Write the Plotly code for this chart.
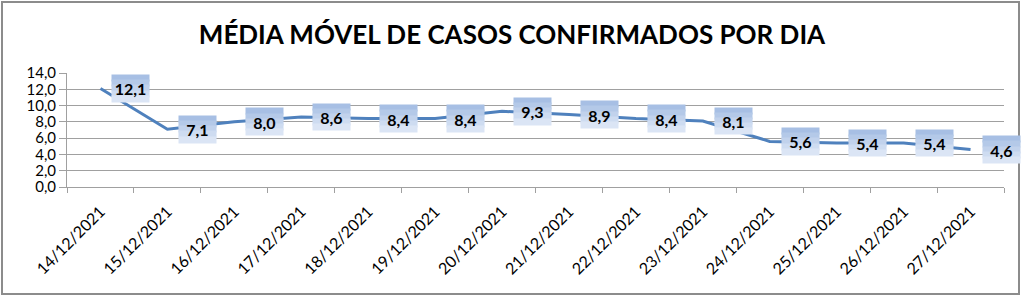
import plotly.graph_objects as go

dates = ["14/12/2021", "15/12/2021", "16/12/2021", "17/12/2021", "18/12/2021",
         "19/12/2021", "20/12/2021", "21/12/2021", "22/12/2021", "23/12/2021",
         "24/12/2021", "25/12/2021", "26/12/2021", "27/12/2021"]
values = [12.1, 7.1, 8.0, 8.6, 8.4, 8.4, 9.3, 8.9, 8.4, 8.1, 5.6, 5.4, 5.4, 4.6]
y_ticks = [0, 2, 4, 6, 8, 10, 12, 14]
y_ticktext = ["0,0", "2,0", "4,0", "6,0", "8,0", "10,0", "12,0", "14,0"]
title_text = "MÉDIA MÓVEL DE CASOS CONFIRMADOS POR DIA"

FONT = "Lato"
GRID = "#a0a0a0"

fig = go.Figure()
fig.add_trace(go.Scatter(
    x=dates, y=values, mode="lines",
    line=dict(color="#4f81bd", width=3),
    hoverinfo="skip", showlegend=False,
))

annotations = []
# gradient-like label boxes: stacked bands from dark (top) to light (bottom)
band_colors = ["#a7bfe4", "#b4c9e8", "#c1d2ec", "#cedcf1", "#dbe5f5"]
box_h = 26
box_w = 37
n = len(band_colors)
bh = box_h / n
for d, v in zip(dates, values):
    for i, c in enumerate(band_colors):
        annotations.append(dict(
            x=d, y=v, xref="x", yref="y", text="", showarrow=False,
            xanchor="left", yanchor="middle", xshift=11,
            yshift=box_h / 2 - bh * (i + 0.5),
            width=box_w, height=bh + 0.6, bgcolor=c, borderpad=0,
        ))
    annotations.append(dict(
        x=d, y=v, xref="x", yref="y",
        text="<b>" + f"{v:.1f}".replace(".", ",") + "</b>",
        showarrow=False, xanchor="left", yanchor="middle", xshift=11,
        width=box_w, height=box_h, borderpad=0,
        font=dict(family=FONT, size=16, color="#000000"),
    ))

fig.update_layout(
    width=1024, height=296,
    margin=dict(l=67, r=20, t=73, b=109),
    paper_bgcolor="white", plot_bgcolor="white",
    font=dict(family=FONT, size=15, color="#000000"),
    title=dict(text="<b>" + title_text + "</b>", x=0.5, xanchor="center",
               y=1 - 35 / 296, yanchor="middle",
               font=dict(family=FONT, size=26, color="#000000")),
    annotations=annotations,
    xaxis=dict(
        type="category", range=[-0.5, len(dates) - 0.5],
        showgrid=False, tickangle=-45, tickson="boundaries",
        ticks="outside", ticklen=5, tickcolor=GRID,
        showline=True, linecolor=GRID, linewidth=1,
        ticklabelstandoff=8,
        tickfont=dict(family=FONT, size=16, color="#000000"),
    ),
    yaxis=dict(
        range=[0, 14], tickvals=y_ticks, ticktext=y_ticktext,
        showgrid=True, gridcolor=GRID, gridwidth=1,
        ticks="outside", ticklen=7, tickcolor=GRID,
        showline=True, linecolor=GRID, linewidth=1,
        zeroline=False,
        tickfont=dict(family=FONT, size=15, color="#000000"),
    ),
    shapes=[dict(type="rect", xref="paper", yref="paper",
                 x0=-65 / 937, x1=1 + 15 / 937, y0=-107 / 114, y1=1 + 71 / 114,
                 line=dict(color="#8c8c8c", width=2), fillcolor="rgba(0,0,0,0)")],
)

fig.write_html("out.html")
